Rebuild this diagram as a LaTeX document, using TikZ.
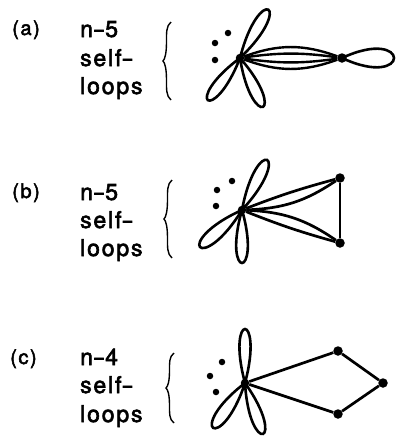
\documentclass[tikz,border=0pt]{standalone}
\usepackage{fontspec}
\setmainfont{TeX Gyre Heros}[LetterSpace=8,FakeBold=2.5]
\usepackage{graphicx}
\newcommand\wdash{\scalebox{1.6}[1]{-}}
% petal: center, direction, length, half-opening angle
\newcommand\petal[4]{\draw[petalline] (#1) .. controls +({#2-#4}:{#3/(0.75*cos(#4))}) and +({#2+#4}:{#3/(0.75*cos(#4))}) .. (#1);}
\newcommand\cbrace[3]{\draw[bracel] ({#1+8},#2) .. controls ({#1+3},{#2+0.1*(#3-#2)/2}) and ({#1+3.5},{#2+0.3*(#3-#2)/2}) .. ({#1+3.5},{#2+0.5*(#3-#2)/2})
  .. controls ({#1+3.5},{#2+0.8*(#3-#2)/2}) and ({#1+2},{#2+0.95*(#3-#2)/2}) .. (#1,{(#2+#3)/2})
  .. controls ({#1+2},{#2+1.05*(#3-#2)/2}) and ({#1+3.5},{#2+1.2*(#3-#2)/2}) .. ({#1+3.5},{#2+1.5*(#3-#2)/2})
  .. controls ({#1+3.5},{#2+1.7*(#3-#2)/2}) and ({#1+3},{#2+1.9*(#3-#2)/2}) .. ({#1+8},#3);}
\begin{document}
\begin{tikzpicture}[x=1pt,y=-1pt,
 vtx/.style={circle,fill=black,inner sep=0pt,minimum size=9.5pt},
 hub/.style={circle,fill=black,inner sep=0pt,minimum size=8.5pt},
 dotm/.style={circle,fill=black,inner sep=0pt,minimum size=6.5pt},
 edge/.style={line width=2.7pt},
 lens/.style={line width=2.4pt},
 petalline/.style={line width=2.6pt},
 bracel/.style={line width=1.4pt},
 txt/.style={anchor=base west,inner sep=0pt,font=\fontsize{23}{28}\selectfont},
 lbl/.style={anchor=base west,inner sep=0pt,font=\fontsize{20}{24}\selectfont}]
\useasboundingbox (0,0) rectangle (396,437);

% ---------- (a)
\node[lbl] (la) at (12,35) {(a)};
\node[txt] (a1t) at (80,37) {n\wdash 5};
\node[txt] (a2t) at (80,66) {self\wdash};
\node[txt] (a3t) at (80,94) {loops};
\cbrace{163}{22}{100}
\node[hub] (a0) at (240,58) {};
\node[vtx] (a1) at (342,58) {};
\node[dotm] (ad1) at (228,33) {};
\node[dotm] (ad2) at (215,43) {};
\node[dotm] (ad3) at (215,60) {};
\petal{a0.center}{-59.7}{56}{16}
\petal{a0.center}{127.3}{53}{16}
\petal{a0.center}{64.9}{54}{16}
\petal{a1.center}{0}{52}{25}
\draw[lens] (a0) to[bend left=20] (a1);
\draw[lens] (a0) to[bend left=8] (a1);
\draw[lens] (a0) to[bend right=8] (a1);
\draw[lens] (a0) to[bend right=20] (a1);

% ---------- (b)
\node[lbl] (lb) at (12,198) {(b)};
\node[txt] (b1t) at (80,200) {n\wdash 5};
\node[txt] (b2t) at (80,228) {self\wdash};
\node[txt] (b3t) at (80,256) {loops};
\cbrace{164}{180}{258}
\node[hub] (b0) at (242,210) {};
\node[vtx] (b1) at (340,178) {};
\node[vtx] (b2) at (340,243) {};
\node[dotm] (bd1) at (232,181) {};
\node[dotm] (bd2) at (217,190) {};
\node[dotm] (bd3) at (216,206) {};
\petal{b0.center}{-63.4}{56}{16}
\petal{b0.center}{138.6}{56}{17}
\petal{b0.center}{90}{53}{16}
\draw[edge] (b0) to[bend right=16] (b1);
\draw[edge] (b0) to[bend left=3] (b1);
\draw[edge] (b0) to[bend left=16] (b2);
\draw[edge] (b0) to[bend right=3] (b2);
\draw[edge] (b1) -- (b2);

% ---------- (c)
\node[lbl] (lc) at (10,364) {(c)};
\node[txt] (c1t) at (80,365) {n\wdash 4};
\node[txt] (c2t) at (80,393) {self\wdash};
\node[txt] (c3t) at (80,422) {loops};
\cbrace{166}{353}{423}
\node[hub] (c0) at (245,383) {};
\node[vtx] (c1) at (338,351) {};
\node[vtx] (c2) at (383,383) {};
\node[vtx] (c3) at (338,414) {};
\node[dotm] (cd1) at (222,362) {};
\node[dotm] (cd2) at (210,376) {};
\node[dotm] (cd3) at (216,392) {};
\petal{c0.center}{-90}{54}{15}
\petal{c0.center}{125.4}{55}{17}
\petal{c0.center}{70.6}{54}{16}
\draw[edge] (c0) -- (c1) -- (c2) -- (c3) -- (c0);
\end{tikzpicture}
\end{document}
